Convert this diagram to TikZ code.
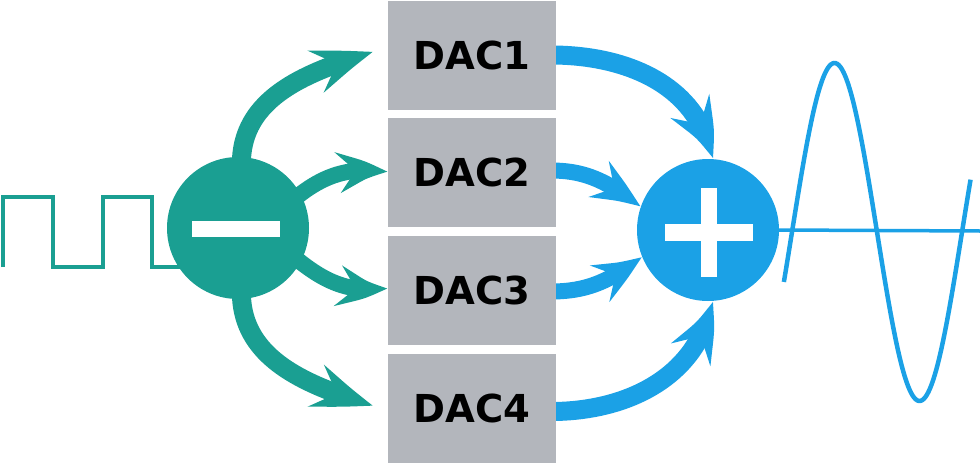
\documentclass[tikz,border=0pt]{standalone}
\usepackage{fontspec}
\newfontfamily\dacfont{DejaVu Sans}
\usetikzlibrary{arrows.meta,bending,calc}
\definecolor{tealc}{HTML}{1A9F92}
\definecolor{bluec}{HTML}{1BA1E6}
\definecolor{boxgray}{HTML}{B3B6BC}
\pgfdeclarelayer{bg}
\pgfsetlayers{bg,main}
\begin{document}
\begin{tikzpicture}[x=1pt,y=-1pt,
  dacbox/.style={fill=boxgray, minimum width=168pt, minimum height=109pt, inner sep=0pt,
    font=\dacfont\bfseries\fontsize{38.5}{40}\selectfont},
  sumdot/.style={circle, minimum size=142pt, inner sep=0pt},
  bar/.style={fill=white, inner sep=0pt},
  bigtip/.style={-{Stealth[length=60pt,width=44pt,inset=22pt,bend]}},
  smalltip/.style={-{Stealth[length=54pt,width=40pt,inset=20pt,bend]}},
  tealarrow/.style={draw=tealc},
  bluearrow/.style={draw=bluec},
  wave/.style={line width=4.5pt}
]
\useasboundingbox (0,0) rectangle (980,463);
% DAC boxes
\node[dacbox] (d1) at (472,55) {DAC1};
\node[dacbox] (d2) at (472,172.5) {DAC2};
\node[dacbox] (d3) at (472,290.5) {DAC3};
\node[dacbox] (d4) at (472,408.5) {DAC4};
% summing circles
\node[sumdot, fill=tealc] (m) at (238,228) {};
\node[bar, minimum width=88pt, minimum height=16pt] (mbar) at (236,229) {};
\node[sumdot, fill=bluec] (p) at (708,230) {};
\node[bar, minimum width=88pt, minimum height=17pt] (phbar) at (709,232) {};
\node[bar, minimum width=16pt, minimum height=89pt] (pvbar) at (709,232) {};
\coordinate (sqstart) at (3,267);
\coordinate (lineend) at (980,231);
\begin{pgfonlayer}{bg}
% square wave input
\draw[tealc, wave] (sqstart) -- (3,197) -- (53,197) -- (53,267) -- (103,267) -- (103,197)
  -- (152,197) -- (152,267) -- (m.center |- sqstart);
% teal arrows
\draw[tealarrow, bigtip, line width=19pt] ($(m.center)+(87:64pt)$) to[out=90,in=197] ([shift={(-15,-3)}]d1.west);
\draw[tealarrow, smalltip, line width=16pt] ($(m.center)+(27:62pt)$) to[out=40,in=170] (d2.west);
\draw[tealarrow, smalltip, line width=16pt] ($(m.center)+(-27:62pt)$) to[out=-40,in=190] ([shift={(0,-3)}]d3.west);
\draw[tealarrow, bigtip, line width=19pt] ($(m.center)+(-87:64pt)$) to[out=-90,in=163] ([shift={(-15,-3)}]d4.west);
% blue arrows
\draw[bluearrow, bigtip, line width=19pt] ([xshift=-5pt]d1.east) to[out=0,in=100] ([xshift=4pt]p.north);
\draw[bluearrow, smalltip, line width=16pt] ([shift={(-5,-2)}]d2.east) to[out=0,in=143] (p.161);
\draw[bluearrow, smalltip, line width=16pt] ([shift={(-5,1)}]d3.east) to[out=0,in=217] (p.202);
\draw[bluearrow, bigtip, line width=19pt] ([shift={(-5,3)}]d4.east) to[out=0,in=-100] ([xshift=4pt]p.south);
% output
\draw[bluec, line width=3.5pt] (p.east) -- (lineend);
\draw[bluec, wave] plot[domain=-0.3:6.6, samples=120, smooth] ({792+27.06*\x}, {232-169*sin(\x r)});
\end{pgfonlayer}
\end{tikzpicture}
\end{document}
